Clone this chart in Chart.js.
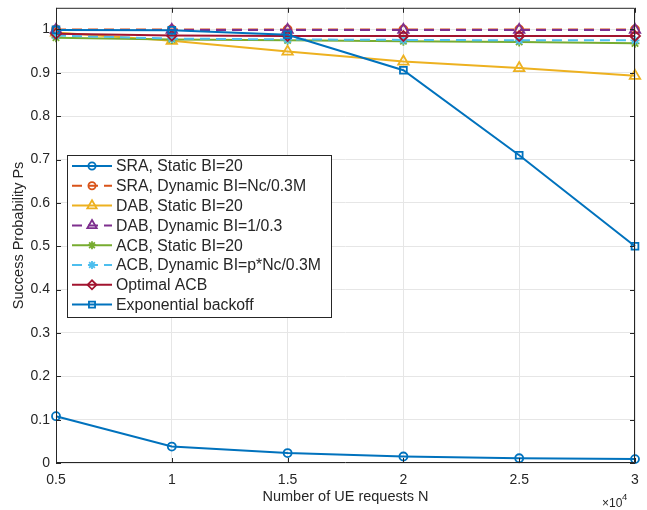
<!DOCTYPE html>
<html>
<head>
<meta charset="utf-8">
<script src="https://cdn.jsdelivr.net/npm/chart.js@4/dist/chart.umd.min.js"></script>
<style>
  html, body { margin: 0; padding: 0; background: #fff; }
  #wrap { position: relative; width: 647px; height: 510px; }
</style>
</head>
<body>
<div id="wrap"><canvas id="chart"></canvas></div>
<script>
// data /////////////////////////////////////////////////
const ueRequests = [5000, 10000, 15000, 20000, 25000, 30000];

const sraStatic      = [0.108, 0.038, 0.023, 0.015, 0.011, 0.009];
const sraDynamic     = [1.000, 1.000, 1.000, 1.000, 1.000, 1.000];
const dabStatic      = [0.993, 0.974, 0.949, 0.926, 0.911, 0.893];
const dabDynamic     = [0.999, 0.999, 0.999, 0.999, 0.999, 0.999];
const acbStatic      = [0.981, 0.977, 0.975, 0.973, 0.971, 0.968];
const acbDynamic     = [0.986, 0.979, 0.977, 0.976, 0.975, 0.975];
const optimalAcb     = [0.990, 0.986, 0.985, 0.985, 0.985, 0.985];
const expBackoff     = [0.999, 0.998, 0.988, 0.906, 0.710, 0.500];

const seriesNames = [
  'SRA, Static BI=20',
  'SRA, Dynamic BI=Nc/0.3M',
  'DAB, Static BI=20',
  'DAB, Dynamic BI=1/0.3',
  'ACB, Static BI=20',
  'ACB, Dynamic BI=p*Nc/0.3M',
  'Optimal ACB',
  'Exponential backoff'
];
const seriesValues = [sraStatic, sraDynamic, dabStatic, dabDynamic, acbStatic, acbDynamic, optimalAcb, expBackoff];
const seriesColors = ['#0072BD', '#D95319', '#EDB120', '#7E2F8E', '#77AC30', '#4DBEEE', '#A2142F', '#0072BD'];
const seriesMarkers = ['circle', 'circle', 'triangle', 'triangle', 'star', 'star', 'rectRot', 'rect'];
const markerSizes = [4, 4, 6, 6, 4.5, 4.5, 5, 4.8];
const seriesDashed = [false, true, false, true, false, true, false, false];

const yTickValues = [0, 0.1, 0.2, 0.3, 0.4, 0.5, 0.6, 0.7, 0.8, 0.9, 1];

const FONT = '"Liberation Sans", Arial, Helvetica, sans-serif';
const INK = '#262626';
const DASH = [10, 6];

// datasets (later series drawn on top, like MATLAB)
const datasets = seriesNames.map((name, i) => ({
  label: name,
  data: ueRequests.map((x, k) => ({ x: x, y: seriesValues[i][k] })),
  borderColor: seriesColors[i],
  backgroundColor: seriesColors[i],
  borderWidth: 2,
  borderDash: seriesDashed[i] ? DASH : [],
  pointStyle: seriesMarkers[i],
  pointRadius: markerSizes[i],
  pointHoverRadius: markerSizes[i],
  pointBorderWidth: 1.8,
  pointBackgroundColor: 'rgba(0,0,0,0)',
  pointBorderColor: seriesColors[i],
  tension: 0,
  clip: false,
  order: seriesNames.length - i
}));

// marker helper for the legend
function drawMarker(ctx, style, r, x, y, color) {
  ctx.save();
  ctx.setLineDash([]);
  ctx.strokeStyle = color;
  ctx.fillStyle = 'rgba(0,0,0,0)';
  ctx.lineWidth = 1.8;
  if (Chart.helpers && Chart.helpers.drawPoint) {
    Chart.helpers.drawPoint(ctx, { pointStyle: style, radius: r, rotation: 0, borderWidth: 1.8 }, x, y);
  } else {
    ctx.beginPath();
    ctx.arc(x, y, r, 0, Math.PI * 2);
    ctx.stroke();
  }
  ctx.restore();
}

// box, inward ticks, x10^4, legend
const matlabFrame = {
  id: 'matlabFrame',
  afterDraw(chart) {
    const { ctx, chartArea: a, scales } = chart;
    ctx.save();
    ctx.strokeStyle = INK;
    ctx.lineWidth = 1;
    ctx.setLineDash([]);
    ctx.beginPath();
    ctx.rect(a.left + 0.5, a.top + 0.5, a.right - a.left - 1, a.bottom - a.top - 1);
    ctx.stroke();

    // inward ticks
    const tl = 5;
    ctx.beginPath();
    yTickValues.forEach(v => {
      const py = Math.round(scales.y.getPixelForValue(v)) + 0.5;
      ctx.moveTo(a.left, py); ctx.lineTo(a.left + tl, py);
      ctx.moveTo(a.right, py); ctx.lineTo(a.right - tl, py);
    });
    ueRequests.forEach(v => {
      const px = Math.round(scales.x.getPixelForValue(v)) + 0.5;
      ctx.moveTo(px, a.bottom); ctx.lineTo(px, a.bottom - tl);
      ctx.moveTo(px, a.top); ctx.lineTo(px, a.top + tl);
    });
    ctx.stroke();

    // x10^4 exponent label
    ctx.fillStyle = INK;
    ctx.textBaseline = 'alphabetic';
    ctx.textAlign = 'left';
    ctx.font = '12px ' + FONT;
    ctx.fillText('\u00d710', 602, 507);
    ctx.font = '9.5px ' + FONT;
    ctx.fillText('4', 622, 500);

    // legend
    const bx = 67, by = 155, bw = 264, bh = 162;
    ctx.fillStyle = '#fff';
    ctx.fillRect(bx, by, bw, bh);
    ctx.strokeStyle = INK;
    ctx.lineWidth = 1;
    ctx.strokeRect(bx + 0.5, by + 0.5, bw, bh);

    ctx.font = '15.8px ' + FONT;
    ctx.textBaseline = 'middle';
    seriesNames.forEach((name, i) => {
      const cy = by + 11 + i * 19.8;
      ctx.save();
      ctx.strokeStyle = seriesColors[i];
      ctx.lineWidth = 2;
      ctx.setLineDash(seriesDashed[i] ? DASH : []);
      ctx.beginPath();
      ctx.moveTo(72, cy); ctx.lineTo(112, cy);
      ctx.stroke();
      ctx.restore();
      drawMarker(ctx, seriesMarkers[i], markerSizes[i] * 0.9, 92, cy, seriesColors[i]);
      ctx.fillStyle = INK;
      ctx.fillText(name, 116, cy + 1);
    });
    ctx.restore();
  }
};

new Chart(document.getElementById('chart'), {
  type: 'line',
  data: { datasets },
  options: {
    responsive: true,
    maintainAspectRatio: false,
    animation: false,
    layout: { padding: { top: 7, right: 12, left: 0, bottom: 0 } },
    plugins: {
      legend: { display: false },
      tooltip: { enabled: false }
    },
    scales: {
      x: {
        type: 'linear',
        min: 5000,
        max: 30000,
        border: { display: false },
        grid: { color: '#e6e6e6', drawTicks: false, lineWidth: 1 },
        ticks: {
          stepSize: 5000,
          padding: 9,
          color: INK,
          font: { family: FONT, size: 14 },
          callback: v => String(v / 10000)
        },
        title: {
          display: true,
          text: 'Number of UE requests N',
          color: INK,
          font: { family: FONT, size: 14.5 },
          padding: { top: 0, bottom: 4 }
        },
        afterFit: s => { s.height = 47; s.paddingLeft = 0; s.paddingRight = 0; }
      },
      y: {
        min: 0,
        max: 1.05,
        border: { display: false },
        grid: { color: '#e6e6e6', drawTicks: false, lineWidth: 1 },
        ticks: {
          stepSize: 0.1,
          padding: 6,
          color: INK,
          font: { family: FONT, size: 14 },
          callback: v => String(+v.toFixed(2))
        },
        afterBuildTicks: s => { s.ticks = s.ticks.filter(t => t.value <= 1.0001); },
        title: {
          display: true,
          text: 'Success Probability Ps',
          color: INK,
          font: { family: FONT, size: 14.5 },
          padding: { top: 10, bottom: 0 }
        },
        afterFit: s => { s.width = 56; s.paddingTop = 0; s.paddingBottom = 0; }
      }
    }
  },
  plugins: [matlabFrame]
});
</script>
</body>
</html>
